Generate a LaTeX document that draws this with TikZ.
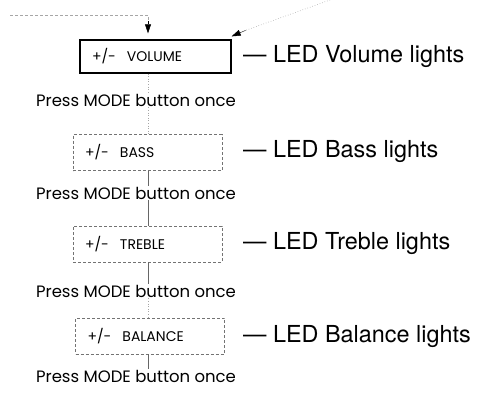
\documentclass[tikz,border=0pt]{standalone}
\usepackage{fontspec}
\setmainfont{Poppins}
\newfontfamily\ledfont{TeX Gyre Heros}
\usetikzlibrary{arrows.meta,positioning}
\newcommand{\modelabel}[1]{+/-\hspace{11pt}#1}

\begin{document}
\begin{tikzpicture}[x=1pt,y=-1pt,
  modebox/.style={draw=black!55,densely dashed,line width=0.5pt,minimum height=36pt,text width=125pt,align=left,inner xsep=12pt,font=\fontsize{14}{15}\selectfont},
  active/.style={modebox,draw=black,solid,line width=1.3pt,minimum height=33pt,text width=127pt},
  press/.style={font=\fontsize{16.5}{18}\selectfont,inner sep=1pt},
  led/.style={anchor=west,font=\ledfont\fontsize{23.4}{25}\selectfont,inner sep=0pt},
  flow/.style={black!60,line width=0.5pt},
  faint/.style={black!35,densely dashed,line width=0.6pt},
  tip/.style={-{Triangle[length=9pt,width=6pt]},black}]
\useasboundingbox (0,0) rectangle (477,394);
\coordinate (col) at (148,0);
% mode sequence
\node[active] (vol) at (155.5,56.5) {\modelabel{VOLUME}};
\node[press] (pressA) at (136,100) {Press MODE button once};
\node[modebox] (bass) at (147.5,152.5) {\modelabel{BASS}};
\node[press] (pressB) at (136,193) {Press MODE button once};
\node[modebox] (treble) at (147.5,244) {\modelabel{TREBLE}};
\node[press] (pressC) at (136,291) {Press MODE button once};
\node[modebox] (bal) at (150,336) {\modelabel{BALANCE}};
\node[press] (pressD) at (136,376) {Press MODE button once};
% led labels
\node[led] (ledvol) at (243,57) {— LED Volume lights};
\node[led] (ledbass) at (243,152) {— LED Bass lights};
\node[led] (ledtreble) at (243,244) {— LED Treble lights};
\node[led] (ledbal) at (243,337) {— LED Balance lights};
% entry arrows
\coordinate (entry) at (10,15);
\coordinate (back) at (330,0);
\draw[faint] (entry) -- (entry -| col) -- ++(0,6);
\draw[tip] ([yshift=18pt]vol.north -| col) -- ([yshift=6pt]vol.north -| col);
\draw[faint,dotted] (back) -- ([shift={(14pt,9pt)}]vol.north east);
\draw[tip] ([shift={(14pt,9pt)}]vol.north east) -- ([shift={(0pt,3pt)}]vol.north east);
% connectors
\draw[faint,dotted] (vol.south -| col) -- (pressA.north -| col);
\draw[faint,dotted] (pressA.south -| col) -- (bass.north -| col);
\draw[flow] (bass.south -| col) -- (pressB.north -| col);
\draw[flow] (pressB.south -| col) -- (treble.north -| col);
\draw[flow] (treble.south -| col) -- (pressC.north -| col);
\draw[faint,dotted] (pressC.south -| col) -- (bal.north -| col);
\draw[flow] (bal.south -| col) -- (pressD.north -| col);
\end{tikzpicture}
\end{document}
